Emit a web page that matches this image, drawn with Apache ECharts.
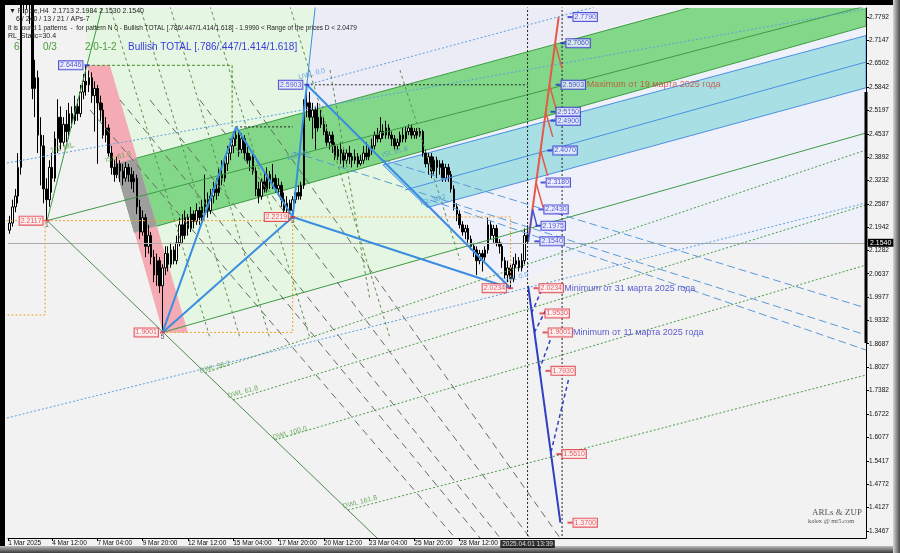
<!DOCTYPE html>
<html>
<head>
<meta charset="utf-8">
<script src="https://cdn.jsdelivr.net/npm/echarts@6/dist/echarts.min.js"></script>
<style>
  html, body { margin: 0; padding: 0; background: #000; }
  #chart { width: 900px; height: 553px; }
</style>
</head>
<body>
<div id="chart"></div>
<script>
// H4 bars from 1 Mar 2025 20:00, [open, close, low, high]
const candles = [
  [2.200,2.185,2.170,2.215],[2.185,2.205,2.175,2.225],[2.205,2.250,2.195,2.270],[2.250,2.280,2.235,2.300],
  [2.280,2.360,2.260,2.400],[2.360,2.850,2.340,2.950],[2.850,2.890,2.790,2.990],[2.890,2.860,2.800,2.960],
  [2.860,2.820,2.760,2.900],[2.820,2.580,2.550,2.860],[2.580,2.610,2.500,2.660],[2.610,2.450,2.400,2.630],
  [2.450,2.420,2.310,2.500],[2.420,2.300,2.260,2.450],[2.300,2.270,2.2117,2.330],[2.270,2.360,2.250,2.380],
  [2.360,2.330,2.290,2.400],[2.330,2.440,2.320,2.460],[2.440,2.500,2.400,2.550],[2.500,2.430,2.410,2.530],
  [2.430,2.480,2.420,2.500],[2.480,2.460,2.430,2.520],[2.460,2.510,2.440,2.540],[2.510,2.490,2.470,2.530],
  [2.490,2.530,2.480,2.560],[2.530,2.510,2.490,2.550],[2.510,2.570,2.500,2.590],[2.570,2.600,2.550,2.620],
  [2.600,2.590,2.560,2.6446],[2.590,2.610,2.570,2.630],[2.610,2.560,2.540,2.625],[2.560,2.580,2.460,2.600],
  [2.580,2.540,2.370,2.590],[2.540,2.520,2.490,2.560],[2.520,2.450,2.440,2.540],[2.450,2.470,2.430,2.500],
  [2.470,2.400,2.390,2.480],[2.400,2.360,2.340,2.420],[2.360,2.340,2.320,2.380],[2.340,2.370,2.330,2.390],
  [2.370,2.350,2.320,2.380],[2.350,2.330,2.310,2.370],[2.330,2.360,2.320,2.375],[2.360,2.340,2.320,2.370],
  [2.340,2.320,2.300,2.360],[2.320,2.330,2.290,2.350],[2.330,2.250,2.230,2.340],[2.250,2.180,2.160,2.270],
  [2.180,2.220,2.170,2.240],[2.220,2.140,2.110,2.230],[2.140,2.170,2.120,2.200],[2.170,2.110,2.090,2.180],
  [2.110,2.060,2.040,2.130],[2.060,2.100,2.030,2.120],[2.100,2.030,2.010,2.110],[2.030,2.080,1.9001,2.090],
  [2.080,2.120,2.060,2.140],[2.120,2.090,2.070,2.140],[2.090,2.130,2.080,2.150],[2.130,2.100,2.090,2.140],
  [2.100,2.150,2.090,2.170],[2.150,2.200,2.140,2.220],[2.200,2.170,2.150,2.230],[2.170,2.220,2.160,2.240],
  [2.220,2.190,2.170,2.230],[2.190,2.230,2.180,2.250],[2.230,2.210,2.190,2.240],[2.210,2.240,2.200,2.260],
  [2.240,2.220,2.200,2.250],[2.220,2.250,2.210,2.270],[2.250,2.270,2.230,2.340],[2.270,2.240,2.220,2.290],
  [2.240,2.280,2.230,2.300],[2.280,2.300,2.260,2.320],[2.300,2.290,2.270,2.330],[2.290,2.340,2.280,2.360],
  [2.340,2.330,2.310,2.380],[2.330,2.370,2.320,2.390],[2.370,2.400,2.350,2.420],[2.400,2.420,2.380,2.440],
  [2.420,2.440,2.400,2.460],[2.440,2.450,2.420,2.473],[2.450,2.410,2.390,2.460],[2.410,2.440,2.400,2.455],
  [2.440,2.400,2.380,2.450],[2.400,2.380,2.370,2.420],[2.380,2.390,2.350,2.400],[2.390,2.350,2.340,2.400],
  [2.350,2.300,2.280,2.360],[2.300,2.280,2.260,2.320],[2.280,2.320,2.270,2.330],[2.320,2.300,2.290,2.350],
  [2.300,2.340,2.290,2.360],[2.340,2.320,2.300,2.350],[2.320,2.330,2.300,2.370],[2.330,2.300,2.290,2.340],
  [2.300,2.310,2.280,2.330],[2.310,2.270,2.250,2.320],[2.270,2.240,2.230,2.290],[2.240,2.260,2.230,2.280],
  [2.260,2.240,2.230,2.270],[2.240,2.270,2.2219,2.280],[2.270,2.290,2.260,2.300],[2.290,2.280,2.270,2.310],
  [2.280,2.310,2.270,2.320],[2.310,2.530,2.300,2.550],[2.530,2.540,2.500,2.5903],[2.540,2.500,2.490,2.570],
  [2.500,2.520,2.440,2.540],[2.520,2.470,2.410,2.530],[2.470,2.500,2.460,2.540],[2.500,2.480,2.470,2.520],
  [2.480,2.460,2.450,2.500],[2.460,2.430,2.420,2.480],[2.430,2.450,2.410,2.460],[2.450,2.420,2.400,2.460],
  [2.420,2.390,2.380,2.430],[2.390,2.410,2.380,2.420],[2.410,2.400,2.370,2.430],[2.400,2.380,2.360,2.410],
  [2.380,2.400,2.370,2.410],[2.400,2.390,2.370,2.420],[2.390,2.380,2.360,2.400],[2.380,2.390,2.370,2.410],
  [2.390,2.370,2.360,2.400],[2.370,2.380,2.365,2.395],[2.380,2.400,2.370,2.420],[2.400,2.390,2.380,2.430],
  [2.390,2.410,2.380,2.420],[2.410,2.420,2.395,2.440],[2.420,2.450,2.410,2.460],[2.450,2.440,2.430,2.470],
  [2.440,2.460,2.430,2.500],[2.460,2.450,2.440,2.480],[2.450,2.470,2.440,2.490],[2.470,2.450,2.440,2.480],
  [2.450,2.440,2.420,2.460],[2.440,2.420,2.410,2.450],[2.420,2.430,2.410,2.440],[2.430,2.450,2.420,2.460],
  [2.450,2.440,2.430,2.470],[2.440,2.460,2.430,2.475],[2.460,2.470,2.450,2.480],[2.470,2.450,2.440,2.480],
  [2.450,2.460,2.440,2.470],[2.460,2.450,2.440,2.470],[2.450,2.460,2.445,2.470],[2.460,2.400,2.390,2.465],
  [2.400,2.370,2.360,2.410],[2.370,2.390,2.340,2.400],[2.390,2.350,2.330,2.400],[2.350,2.380,2.340,2.390],
  [2.380,2.360,2.330,2.390],[2.360,2.370,2.340,2.380],[2.370,2.330,2.320,2.380],[2.330,2.360,2.320,2.370],
  [2.360,2.340,2.320,2.370],[2.340,2.300,2.290,2.350],[2.300,2.250,2.240,2.310],[2.250,2.230,2.210,2.260],
  [2.230,2.200,2.190,2.240],[2.200,2.180,2.170,2.210],[2.180,2.190,2.160,2.200],[2.190,2.160,2.150,2.200],
  [2.160,2.140,2.130,2.170],[2.140,2.130,2.110,2.150],[2.130,2.100,2.060,2.140],[2.100,2.120,2.090,2.130],
  [2.120,2.110,2.070,2.130],[2.110,2.130,2.100,2.140],[2.130,2.200,2.120,2.220],[2.200,2.170,2.160,2.210],
  [2.170,2.190,2.150,2.200],[2.190,2.150,2.140,2.200],[2.150,2.140,2.120,2.160],[2.140,2.100,2.080,2.150],
  [2.100,2.060,2.050,2.110],[2.060,2.080,2.040,2.100],[2.080,2.050,2.0234,2.090],[2.050,2.090,2.040,2.110],
  [2.090,2.100,2.080,2.120],[2.100,2.080,2.070,2.110],[2.080,2.100,2.070,2.120],[2.100,2.170,2.090,2.190],
  [2.1713,2.1540,2.1530,2.1984]
];

const yTicks = [2.7792, 2.7147, 2.6502, 2.5842, 2.5197, 2.4537, 2.3892, 2.3232, 2.2587, 2.1942, 2.1282,
  2.0637, 1.9977, 1.9332, 1.8687, 1.8027, 1.7382, 1.6722, 1.6077, 1.5417, 1.4772, 1.4127, 1.3467];
const xTickPos = [0.5, 16, 32, 48, 64, 80, 96, 112, 128, 144, 160];
const xTickText = ['1 Mar 2025', '4 Mar 12:00', '7 Mar 04:00', '9 Mar 20:00', '12 Mar 12:00', '15 Mar 04:00',
  '17 Mar 20:00', '20 Mar 12:00', '23 Mar 04:00', '25 Mar 20:00', '28 Mar 12:00'];
const lastBar = 184;
const lastPrice = 2.1540;

// zones, [bar, price]
const lightGreenZone = [[27.6,2.81],[109.1,2.81],[105.0,2.5128],[132.9,2.3667],[162.6,2.1382],[55,1.9001],[28.3,2.6446]];
const lavenderZone = [[105.0,2.5128],[109.1,2.81],[240.7,2.81]];
const blueZone = [[132.9,2.3743],[303.6,2.7539],[303.6,2.1549],[195.5,2.1020],[177.8,2.0212],[132.9,2.3667]];
const greenBand = [[38.2,2.3695],[303.6,2.9389],[303.6,2.7539],[45.1,2.1789]];
const cyanBand = [[132.9,2.3667],[303.6,2.7274],[303.6,2.5819],[148.6,2.2483]];
const pinkBand = [[28.3,2.6446],[36.4,2.6446],[64.0,1.9001],[55.2,1.9001]];
const overlapZone = [[38.2,2.3695],[45.9,2.3862],[53.0,2.1964],[45.1,2.1789]];

// pattern pivots
const pivots = [[14.2,2.2117],[28.3,2.6446],[55,1.9001],[81,2.473],[101,2.2219],[106,2.5903],[178,2.0234]];

// projections to the right
const upTargets = [[199.0,2.7790],[196.5,2.7060],[194.8,2.5903],[193.0,2.5150],[193.0,2.4900],[191.9,2.4070],
  [189.5,2.3180],[188.7,2.2430],[187.7,2.1975],[187.3,2.1540]];
const downTargets = [[187.0,2.0234],[189.1,1.9530],[190.2,1.9001],[191.2,1.7930],[195.1,1.5610],[199.0,1.3700]];

function area(pts, fill, stroke, z) {
  return {
    type: 'custom', silent: true, clip: true, z: z,
    data: [pts[0]],
    renderItem: function (params, api) {
      return {
        type: 'polygon',
        shape: { points: pts.map(function (p) { return api.coord(p); }) },
        style: { fill: fill, stroke: stroke || null, lineWidth: 1 }
      };
    }
  };
}

function seg(pts, color, width, type, z) {
  return {
    type: 'line', data: pts, symbol: 'none', silent: true, z: z || 5,
    lineStyle: { color: color, width: width, type: type || 'solid' }
  };
}

const font = 'Liberation Sans';

function boxes(list, color, bg, pos, dist) {
  return {
    type: 'scatter', z: 9, clip: false, silent: true,
    symbol: 'rect', symbolSize: [5, 2],
    itemStyle: { color: color },
    data: list,
    label: {
      show: true, position: pos, distance: dist,
      formatter: function (p) { return p.value[1].toFixed(4); },
      color: color, backgroundColor: bg, borderColor: color, borderWidth: 1,
      padding: [1, 1, 0, 1], fontSize: 7, fontFamily: font
    }
  };
}

function tags(list, z) {
  return {
    type: 'scatter', z: z || 9, clip: false, silent: true, symbolSize: 0,
    data: list.map(function (t) {
      return {
        value: [t[0], t[1]],
        label: { show: true, formatter: t[2], color: t[3], fontSize: t[4] || 7, fontFamily: font,
          position: t[5] || 'inside', rotate: t[6] || 0, distance: 1 }
      };
    })
  };
}

const series = [
  area(lightGreenZone, '#e5f7e2', null, 1),
  area(lavenderZone, '#ececf7', null, 1),
  area(blueZone, '#eef1fa', null, 1),
  area(greenBand, '#82d888', '#3e9a44', 2),
  area(cyanBand, '#a8dfe4', '#4a90e2', 2),
  area(pinkBand, '#f4abb4', null, 2),
  area(overlapZone, '#9e9e9e', null, 2),
  {
    type: 'candlestick', z: 3, barWidth: 2, silent: true,
    encode: { x: 0, y: [1, 2, 3, 4] },
    data: candles.map(function (c, i) { return [i, c[0], c[1], c[2], c[3]]; }),
    itemStyle: { color: '#ffffff', color0: '#000000', borderColor: '#000000', borderColor0: '#000000', borderWidth: 1 },
    markLine: {
      silent: true, symbol: ['none', 'none'], animation: false,
      lineStyle: { color: '#ababab', width: 1, type: 'solid' },
      label: { position: 'end', distance: 2, formatter: lastPrice.toFixed(4), color: '#fff',
        backgroundColor: '#000', padding: [1, 2, 0, 2], fontSize: 7, fontFamily: font },
      data: [{ yAxis: lastPrice }]
    }
  },
  // pitchfork lines
  seg([[14.2,2.2117],[303.6,2.81]], '#3e9a44', 1),
  seg([[55,1.9001],[303.6,2.4559]], '#3e9a44', 1),
  seg([[14.2,2.2117],[28.3,2.6446],[33.6,2.8043]], '#3e9a44', 1),
  seg([[14.2,2.2117],[130.8,1.3272]], '#4f8a4f', 1),
  seg([[140.7,2.2971],[303.6,2.6538]], '#4a90e2', 1),
  seg([[0.05,2.3723],[303.6,2.8015]], '#5aa0e0', 1, [2, 2]),
  seg([[0.05,1.6616],[303.6,2.2608]], '#5aa0e0', 1, [2, 2]),
  seg([[106,2.5903],[209,2.81]], '#5aa0e0', 1, [2, 2]),
  seg([[70.0,1.7870],[303.6,2.4085]], '#4a9a4a', 1, [2, 2]),
  seg([[79.9,1.7118],[303.6,2.2553]], '#4a9a4a', 1, [2, 2]),
  seg([[94.7,1.6003],[303.6,2.0880]], '#4a9a4a', 1, [2, 2]),
  seg([[120.5,1.4052],[303.6,1.7815]], '#4a9a4a', 1, [2, 2]),
  seg([[29.4,2.5200],[158.4,1.3272]], '#5f6f5f', 1, [7, 5]),
  seg([[40.0,2.5479],[167.2,1.3272]], '#5f6f5f', 1, [7, 5]),
  seg([[50.6,2.5479],[174.3,1.3272]], '#5f6f5f', 1, [7, 5]),
  seg([[68.2,2.5479],[184.9,1.3272]], '#5f6f5f', 1, [7, 5]),
  seg([[85.9,2.5479],[195.5,1.3272]], '#5f6f5f', 1, [7, 5]),
  seg([[36.4,2.81],[71.8,1.8846]], '#5f8f4f', 1, [3, 3]),
  seg([[47.0,2.81],[82.4,1.8846]], '#5f8f4f', 1, [3, 3]),
  seg([[57.6,2.81],[92.9,1.8846]], '#5f8f4f', 1, [3, 3]),
  seg([[71.8,2.81],[107.1,1.8846]], '#5f8f4f', 1, [3, 3]),
  seg([[100.0,2.81],[135.4,1.8846]], '#5f8f4f', 1, [3, 3]),
  seg([[114.2,2.6315],[128.3,1.9905]], '#5f8f4f', 1, [3, 3]),
  seg([[138.9,2.6315],[160.1,2.1020]], '#5f8f4f', 1, [3, 3]),
  seg([[101.1,2.4030],[303.6,1.8930]], '#5a9ad8', 1, [8, 4]),
  seg([[132.9,2.3807],[303.6,1.9682]], '#5a9ad8', 1, [8, 4]),
  seg([[149.5,2.2692],[303.6,1.8511]], '#5a9ad8', 1, [8, 4]),
  // boxes and levels
  seg([[14.2,2.2117],[101,2.2117]], '#f0a030', 1, [2, 2]),
  seg([[101,2.2219],[178,2.2219],[178,2.0234]], '#f0a030', 1, [2, 2]),
  seg([[101,2.2219],[101,1.9001],[55,1.9001]], '#f0a030', 1, [2, 2]),
  seg([[0.05,2.2117],[13.5,2.2117],[13.5,1.9487],[0.05,1.9487]], '#f0a030', 1, [2, 2]),
  seg([[28.3,2.6446],[79.6,2.6446],[79.6,2.473]], '#4a8a2a', 1, [3, 2]),
  seg([[106,2.5903],[lastBar,2.5903]], '#222', 1, [2, 2]),
  seg([[81,2.473],[101,2.473]], '#222', 1, [2, 2]),
  seg([[lastBar,2.81],[lastBar,1.32]], '#222', 1, [2, 2]),
  seg([[196.2,2.81],[196.2,1.32]], '#222', 1, [2, 2]),
  // pattern
  seg([[55,1.9001],[81,2.473],[101,2.2219],[106,2.5903]], '#3a8ee0', 2, 'solid', 6),
  seg([[106,2.5903],[109,2.81]], '#3a8ee0', 1, 'solid', 6),
  seg([[106,2.5903],[178,2.0234]], '#3a8ee0', 2, 'solid', 6),
  seg([[101,2.2219],[178,2.0234]], '#3a8ee0', 2, 'solid', 6),
  seg([[55,1.9001],[101,2.2219]], '#3a8ee0', 2, 'solid', 6),
  // projections
  seg([[184.5,2.1713],[195,2.779]], '#e5584a', 2, 'solid', 6),
  seg([[187.0,2.318],[189.5,2.248]], '#e5584a', 1.5, 'solid', 6),
  seg([[188.6,2.407],[191.1,2.337]], '#e5584a', 1.5, 'solid', 6),
  seg([[190.4,2.515],[192.9,2.445]], '#e5584a', 1.5, 'solid', 6),
  seg([[191.7,2.5903],[194.2,2.520]], '#e5584a', 1.5, 'solid', 6),
  seg([[193.7,2.706],[196.2,2.636]], '#e5584a', 1.5, 'solid', 6),
  seg([[184.3,2.154],[185.8,2.243],[187.3,2.1975]], '#3f5ad8', 1.5, 'solid', 6),
  seg([[184.2,2.03],[195.6,1.37]], '#2f3fc0', 2, 'solid', 6),
  seg([[185.4,1.954],[188.7,2.013]], '#2f3fc0', 1.5, [4, 3], 6),
  seg([[186.4,1.900],[190.3,1.960]], '#2f3fc0', 1.5, [4, 3], 6),
  seg([[188.1,1.795],[192.3,1.885]], '#2f3fc0', 1.5, [4, 3], 6),
  seg([[192.3,1.567],[198.7,1.776]], '#2f3fc0', 1.5, [4, 3], 6),
  {
    type: 'line', z: 7, silent: true, symbol: 'none',
    data: [[303.6,2.5702],[303.6,1.8707]],
    lineStyle: { color: '#000', width: 3 }
  },
  boxes(upTargets, '#2a2ad0', '#eef0ff', 'right', 1),
  boxes(downTargets, '#e0303a', '#fff2f2', 'right', 1),
  boxes([pivots[1], pivots[5]], '#2a2ad0', '#eef0ff', 'left', 2),
  boxes([pivots[0], pivots[2], pivots[4], pivots[6]], '#e0303a', '#fff2f2', 'left', 2),
  tags([
    [14.2, 2.2117, '1', '#333', 7, 'bottom'],
    [55, 1.9001, '5', '#333', 7, 'bottom'],
    [101, 2.2219, '3', '#333', 7, 'bottom'],
    [204.6, 2.5903, 'Maximum от 19 марта 2025 года', '#c9452f', 9, 'right'],
    [196.6, 2.0234, 'Minimum от 31 марта 2025 года', '#3535c8', 9, 'right'],
    [199.7, 1.9001, 'Minimum от 11 марта 2025 года', '#3535c8', 9, 'right'],
    [19.5, 2.4141, '1/2 ML', '#4a9a3a', 8, 'inside', 15],
    [39.3, 2.3890, 'ISL 61.8', '#4a9a3a', 7, 'inside', 15],
    [102.9, 2.3946, '1/2 ML', '#4a90d9', 8, 'inside', 15],
    [137.1, 2.4030, 'ISL 61.8', '#4a90d9', 7, 'inside', 15],
    [150.6, 2.2692, 'ISL 38.2', '#4a90d9', 7, 'inside', 15],
    [107.8, 2.6204, 'UWL 0.0', '#4a90d9', 7, 'inside', 15],
    [179.6, 2.0518, 'DWL 0.0', '#4a90d9', 7, 'inside', 15],
    [73.5, 1.8037, 'DWL 38.2', '#4a9a3a', 7, 'inside', 15],
    [83.4, 1.7341, 'DWL 61.8', '#4a9a3a', 7, 'inside', 15],
    [100.0, 1.6198, 'DWL 100.0', '#4a9a3a', 7, 'inside', 15],
    [124.8, 1.4275, 'DWL 161.8', '#4a9a3a', 7, 'inside', 15]
  ]),
  {
    type: 'scatter', z: 9, clip: false, silent: true, symbolSize: 0,
    data: [[lastBar, 1.3272]],
    label: { show: true, position: 'bottom', distance: 2, formatter: '2025.04.01 13:39', color: '#fff',
      backgroundColor: '#000', padding: [1, 2, 0, 2], fontSize: 6.5, fontFamily: font }
  }
];

const chart = echarts.init(document.getElementById('chart'));

chart.setOption({
  animation: false,
  backgroundColor: '#000',
  grid: { left: 8, right: 34, top: 8, bottom: 15 },
  xAxis: {
    type: 'value', min: 0.4, max: 303.6,
    splitLine: { show: false },
    axisLine: { lineStyle: { color: '#000' } },
    axisTick: { customValues: xTickPos, length: 3, lineStyle: { color: '#000' } },
    axisLabel: {
      customValues: xTickPos, align: 'left', margin: 2, fontSize: 6.5, fontFamily: font, color: '#111',
      formatter: function (v) {
        const i = xTickPos.findIndex(function (p) { return Math.abs(p - v) < 0.01; });
        return i < 0 ? '' : xTickText[i];
      }
    }
  },
  yAxis: {
    type: 'value', position: 'right', min: 1.3272, max: 2.8043, scale: true,
    splitLine: { show: false },
    axisLine: { show: true, lineStyle: { color: '#000' } },
    axisTick: { show: true, customValues: yTicks, length: 3, lineStyle: { color: '#000' } },
    axisLabel: {
      customValues: yTicks, margin: 3, fontSize: 6.5, fontFamily: font, color: '#111',
      formatter: function (v) { return v.toFixed(4); }
    }
  },
  graphic: [
    { type: 'rect', z: -10, shape: { x: 5, y: 5, width: 888, height: 542 }, style: { fill: '#f2f2f2' } },
    { type: 'rect', z: -9, shape: { x: 0, y: 546, width: 900, height: 7 },
      style: { fill: new echarts.graphic.LinearGradient(0, 0, 0, 1, [{ offset: 0, color: '#bdbdbd' }, { offset: 1, color: '#3a3a3a' }]) } },
    { type: 'rect', z: -9, shape: { x: 893, y: 0, width: 7, height: 553 },
      style: { fill: new echarts.graphic.LinearGradient(0, 0, 1, 0, [{ offset: 0, color: '#d6d6d6' }, { offset: 1, color: '#4a4a4a' }]) } },
    { type: 'text', z: 100, left: 9, top: 8, style: { text: '▼ Ripple,H4  2.1713 2.1984 2.1530 2.1540', font: '7px "Liberation Sans"', fill: '#222' } },
    { type: 'text', z: 100, left: 16, top: 16, style: { text: '6 / 240 / 13 / 21 / APs-7', font: '7px "Liberation Sans"', fill: '#222' } },
    { type: 'text', z: 100, left: 8, top: 25, style: { text: 'It is found 1 patterns  -  for pattern N 0 - Bullish TOTAL [.786/.447/1.414/1.618] - 1.9990 < Range of the prices D < 2.0479', font: '6.5px "Liberation Sans"', fill: '#222' } },
    { type: 'text', z: 100, left: 8, top: 33, style: { text: 'RL_Static=30.4', font: '7px "Liberation Sans"', fill: '#222' } },
    { type: 'text', z: 100, left: 14, top: 42, style: { text: '6', font: '10px "Liberation Sans"', fill: '#4a9a3a' } },
    { type: 'text', z: 100, left: 43, top: 42, style: { text: '0/3', font: '10px "Liberation Sans"', fill: '#4a9a3a' } },
    { type: 'text', z: 100, left: 85, top: 42, style: { text: '2/0-1-2', font: '10px "Liberation Sans"', fill: '#4a9a3a' } },
    { type: 'text', z: 100, left: 128, top: 42, style: { text: 'Bullish TOTAL [.786/.447/1.414/1.618]', font: '10px "Liberation Sans"', fill: '#3a3ae0' } },
    { type: 'text', z: 100, left: 812, top: 508, style: { text: 'ARLs & ZUP', font: '9px "Liberation Serif"', fill: '#555' } },
    { type: 'text', z: 100, left: 808, top: 518, style: { text: 'kalex @ mt5.com', font: '6.5px "Liberation Serif"', fill: '#555' } }
  ],
  series: series
});
</script>
</body>
</html>
